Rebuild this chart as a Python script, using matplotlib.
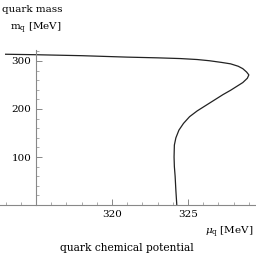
import matplotlib
matplotlib.use("Agg")
import matplotlib.pyplot as plt
import numpy as np

plt.rcParams['font.family'] = ['DejaVu Serif']
plt.rcParams['mathtext.fontset'] = 'dejavuserif'

# curve (mu_q, m_q) in MeV, along the curve
mu_q = [313.0, 315.0, 318.0, 321.0, 323.0, 324.5, 325.6, 326.4, 327.2, 327.8, 328.3, 328.6,
        328.85, 329.0, 328.9, 328.6, 328.2, 327.8, 327.3, 326.8, 326.2, 325.6,
        325.1, 324.7, 324.4, 324.2, 324.1, 324.08, 324.1, 324.15, 324.2, 324.26]
m_q = [314, 313, 311, 308, 306.5, 305, 303, 300.5, 297, 294, 289, 284,
       277, 271, 264, 255, 247, 239, 230, 220, 208, 196,
       184, 170, 156, 140, 125, 100, 80, 60, 30, 0]

xticks = [320, 325]
yticks = [100, 200, 300]

fig = plt.figure(figsize=(2.56, 2.56), dpi=100)
ax = fig.add_axes([0.0, 0.199, 1.0, 0.606])
ax.plot(mu_q, m_q, color='#222222', lw=0.9)

ax.set_xlim(312.63, 329.47)
ax.set_ylim(0, 323)
ax.spines['top'].set_visible(False)
ax.spines['right'].set_visible(False)
ax.spines['left'].set_position(('data', 315))
ax.spines['bottom'].set_position(('data', 0))
for s in ['left', 'bottom']:
    ax.spines[s].set_color('#888888')
    ax.spines[s].set_linewidth(0.8)

ax.set_xticks(xticks)
ax.set_yticks(yticks)
ax.set_xticks(np.arange(313, 330, 1), minor=True)
ax.set_yticks(np.arange(20, 321, 20), minor=True)
ax.tick_params(which='both', direction='in', colors='#888888', labelcolor='black',
               labelsize=7.5)
ax.tick_params(which='major', length=4, width=0.7)
ax.tick_params(which='minor', length=2, width=0.5)
ax.patch.set_alpha(0)

fig.text(2/256, 1 - 9/256, 'quark mass', fontsize=7.5, ha='left', va='center')
fig.text(10/256, 1 - 28/256, r'$\mathrm{m_q}$ [MeV]', fontsize=7.5, ha='left', va='center')
fig.text(253/256, 1 - 232/256, r'$\mu_\mathrm{q}$ [MeV]', fontsize=7.5, ha='right', va='center')
fig.text(60/256, 1 - 248/256, 'quark chemical potential', fontsize=7.7, ha='left', va='center')

fig.savefig('out.png', dpi=100)
